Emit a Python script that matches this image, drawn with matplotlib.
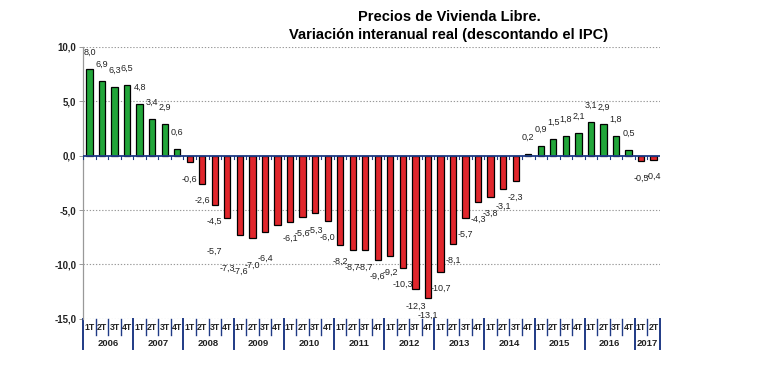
import matplotlib
matplotlib.use("Agg")
import matplotlib.pyplot as plt

# Variacion interanual real, trimestral 2006 1T - 2017 2T
years = ["2006", "2007", "2008", "2009", "2010", "2011",
         "2012", "2013", "2014", "2015", "2016", "2017"]
quarters = ["1T", "2T", "3T", "4T"]
values = [8.0, 6.9, 6.3, 6.5,
          4.8, 3.4, 2.9, 0.6,
          -0.6, -2.6, -4.5, -5.7,
          -7.3, -7.6, -7.0, -6.4,
          -6.1, -5.6, -5.3, -6.0,
          -8.2, -8.7, -8.7, -9.6,
          -9.2, -10.3, -12.3, -13.1,
          -10.7, -8.1, -5.7, -4.3,
          -3.8, -3.1, -2.3, 0.2,
          0.9, 1.5, 1.8, 2.1,
          3.1, 2.9, 1.8, 0.5,
          -0.5, -0.4]
y_ticks = [10, 5, 0, -5, -10, -15]

plt.rcParams['font.family'] = ['Liberation Sans', 'DejaVu Sans']

GREEN = "#22a63a"
RED = "#e0262c"
BLUE = "#1f3a85"

n = len(values)
x = list(range(n))
colors = [GREEN if v >= 0 else RED for v in values]

fig = plt.figure(figsize=(7.7, 3.76), dpi=100)
ax = fig.add_axes([0.108, 0.152, 0.749, 0.723])

ax.bar(x, values, width=0.5, color=colors, edgecolor="black", linewidth=0.9, zorder=3)

ax.set_xlim(-0.5, n - 0.5)
ax.set_ylim(-15, 10)
ax.set_yticks(y_ticks)
ax.set_yticklabels(["{:.1f}".format(t).replace(".", ",") for t in y_ticks],
                   fontsize=7, fontweight="bold", color="#222222")
ax.tick_params(axis="y", length=3, width=0.6, color="#888888", pad=2)
ax.set_xticks([])

for t in y_ticks:
    if t != 0:
        ax.axhline(t, color="#999999", linestyle=(0, (1.2, 1.6)), linewidth=0.8, zorder=1)

for s in ["top", "right", "bottom"]:
    ax.spines[s].set_visible(False)
ax.spines["left"].set_color("#999999")
ax.spines["left"].set_linewidth(0.9)

# zero line with little category ticks
ax.axhline(0, color=BLUE, linewidth=1.3, zorder=4)
for i in range(n + 1):
    ax.plot([i - 0.5, i - 0.5], [0, -0.3], color=BLUE, linewidth=0.8, zorder=4)

# value labels
for i, v in enumerate(values):
    txt = "{:.1f}".format(v).replace(".", ",")
    dx, dy = 0, 12 if v >= 0 else -12
    if 11 <= i <= 15:
        dx, dy = -9, -24
    ax.annotate(txt, (i, v), xytext=(dx, dy), textcoords="offset points",
                ha="center", va="center", fontsize=6.5, color="#222222", zorder=5)

# category axis at the bottom
tr = ax.get_xaxis_transform()
for i in range(n):
    ax.text(i, -0.033, quarters[i % 4], transform=tr, ha="center", va="center",
            fontsize=6.3, fontweight="bold", color="#222222")
for i in range(n + 1):
    if i % 4 == 0 or i == n:
        ax.plot([i - 0.5, i - 0.5], [0, -0.11], transform=tr, color=BLUE,
                linewidth=1.4, clip_on=False)
    else:
        ax.plot([i - 0.5, i - 0.5], [0, -0.059], transform=tr, color=BLUE,
                linewidth=1.0, clip_on=False)
for k, yr in enumerate(years):
    start = k * 4
    end = min(start + 4, n)
    ax.text((start + end - 1) / 2, -0.09, yr, transform=tr, ha="center", va="center",
            fontsize=6.8, fontweight="bold", color="#222222")

fig.text(0.583, 1 - 17 / 376, "Precios de Vivienda Libre.", ha="center", va="center",
         fontsize=10.5, fontweight="bold")
fig.text(0.583, 1 - 35 / 376, "Variación interanual real (descontando el IPC)",
         ha="center", va="center", fontsize=10.5, fontweight="bold")

fig.savefig("out.png", dpi=100)
